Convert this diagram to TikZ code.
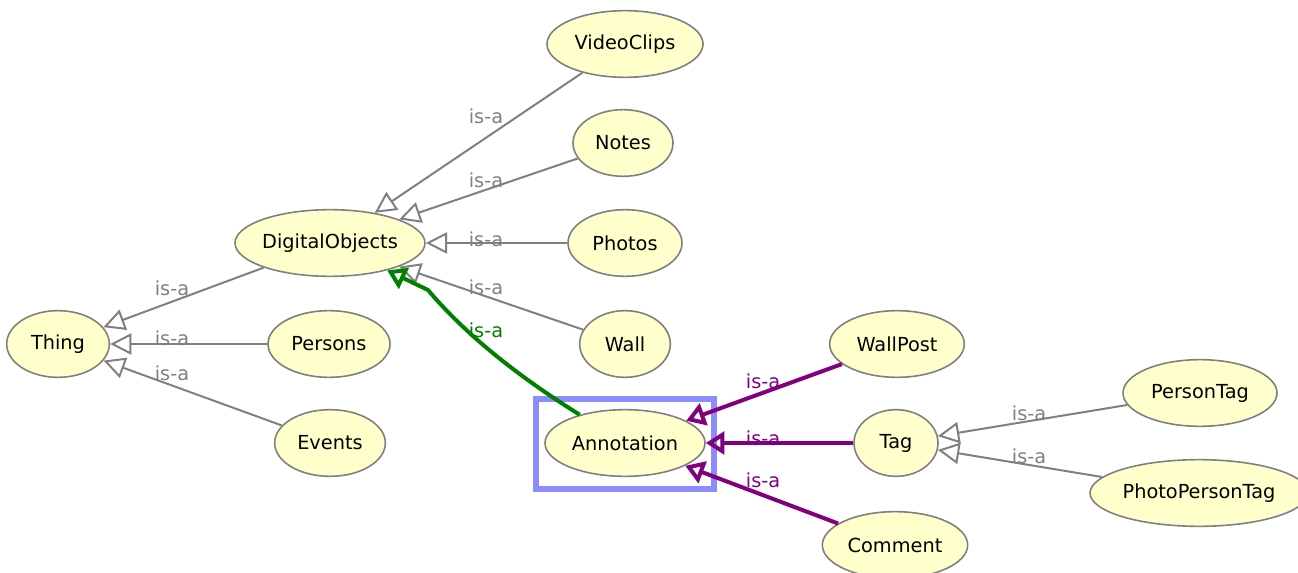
\documentclass[tikz,border=0pt]{standalone}
\usepackage{fontspec}
\setmainfont{DejaVu Sans}
\usetikzlibrary{arrows.meta,shapes.geometric}

\definecolor{nodefill}{RGB}{255,255,204}
\definecolor{edgegray}{RGB}{128,128,128}
\definecolor{isapurple}{RGB}{128,0,128}
\definecolor{isagreen}{RGB}{0,128,0}
\definecolor{selblue}{RGB}{140,140,255}

\begin{document}
\begin{tikzpicture}[x=0.75pt,y=-0.75pt,
  cls/.style={ellipse, draw=edgegray, fill=nodefill, line width=1.2pt,
    inner xsep=-12pt, inner ysep=0pt, minimum height=50pt,
    font=\fontsize{14.5}{16}\selectfont, text=black},
  sub/.style={draw=edgegray, line width=1.5pt,
    -{Triangle[open, length=16pt, width=16pt]}},
  subpurple/.style={draw=isapurple, line width=3pt,
    -{Triangle[open, length=14pt, width=17pt]}},
  subgreen/.style={draw=isagreen, line width=3pt,
    -{Triangle[open, length=14pt, width=17pt]}},
  isa/.style={font=\fontsize{14.5}{16}\selectfont, text=edgegray, inner sep=0pt},
  selbox/.style={draw=selblue, line width=4.5pt, rectangle, inner sep=0pt,
    minimum width=133.5pt, minimum height=67.5pt}
]
\useasboundingbox (0,0) rectangle (1298,573);
\clip (0,0) rectangle (1298,573);

% selection frame round Annotation
\node[selbox] (sel) at (625,444) {};

% classes
\node[cls, minimum width=77pt]    (thing)   at (58,344)   {Thing};
\node[cls, minimum width=142.5pt] (do)      at (330,243)  {DigitalObjects};
\node[cls, minimum width=91.5pt]  (persons) at (329,344)  {Persons};
\node[cls, minimum width=83pt]    (events)  at (330,443)  {Events};
\node[cls, minimum width=117pt]   (video)   at (625,44)   {VideoClips};
\node[cls, minimum width=75pt]    (notes)   at (623,143)  {Notes};
\node[cls, minimum width=85.5pt]  (photos)  at (625,243)  {Photos};
\node[cls, minimum width=68pt]    (wall)    at (625,344)  {Wall};
\node[cls, minimum width=120pt]   (ann)     at (625,443)  {Annotation};
\node[cls, minimum width=101pt]   (wallpost) at (897,344) {WallPost};
\node[cls, minimum width=63pt]    (tag)     at (896,443)  {Tag};
\node[cls, minimum width=109pt]   (comment) at (895,545)  {Comment};
\node[cls, minimum width=115.5pt] (ptag)    at (1200,393) {PersonTag};
\node[cls, minimum width=163.5pt] (pptag)   at (1199,493) {PhotoPersonTag};

% subclass links
\draw[sub] (do) -- (thing);
\draw[sub] (persons) -- (thing);
\draw[sub] (events) -- (thing);
\draw[sub] (video) -- (do);
\draw[sub] (notes) -- (do);
\draw[sub] (photos) -- (do);
\draw[sub] (wall) -- (do);
\draw[sub] (ptag) -- (tag);
\draw[sub] (pptag) -- (tag);

\coordinate (gbend) at (428,290);
\draw[subgreen] (ann) .. controls (500,365) and (455,322) .. (gbend) -- (do);

\draw[subpurple] (wallpost) -- (ann);
\draw[subpurple] (tag) -- (ann);
\draw[subpurple] (comment) -- (ann);

% link labels
\node[isa] (l1)  at (172,288)  {is-a};
\node[isa] (l2)  at (172,338)  {is-a};
\node[isa] (l3)  at (172,373)  {is-a};
\node[isa] (l4)  at (486,116)  {is-a};
\node[isa] (l5)  at (486,180)  {is-a};
\node[isa] (l6)  at (486,239)  {is-a};
\node[isa] (l7)  at (486,287)  {is-a};
\node[isa, text=isagreen] (l8) at (486,330) {is-a};
\node[isa, text=isapurple] (l9)  at (763,381) {is-a};
\node[isa, text=isapurple] (l10) at (763,438) {is-a};
\node[isa, text=isapurple] (l11) at (763,480) {is-a};
\node[isa] (l12) at (1029,413) {is-a};
\node[isa] (l13) at (1029,456) {is-a};
\end{tikzpicture}
\end{document}
